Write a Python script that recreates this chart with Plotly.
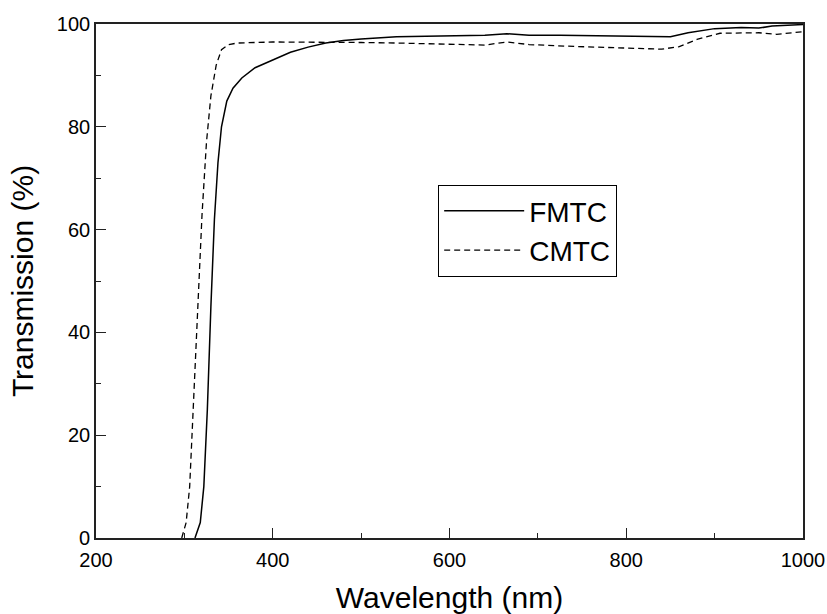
import plotly.graph_objects as go

# FMTC (solid)
fmtc_wl = [312, 318, 322, 326, 330, 334, 338, 342, 348, 355, 365, 380, 400, 420, 440, 460,
           480, 500, 540, 600, 640, 665, 690, 725, 800, 850, 870, 900, 930, 950, 965, 1000]
fmtc_t = [0, 3, 10, 25, 45, 62, 73, 80, 85, 87.5, 89.5, 91.5, 93, 94.5, 95.5, 96.3,
          96.8, 97.1, 97.5, 97.7, 97.8, 98.1, 97.8, 97.8, 97.6, 97.5, 98.3, 99.1, 99.3, 99.2, 99.6, 99.9]

# CMTC (dashed)
cmtc_wl = [297, 302, 306, 310, 315, 320, 325, 330, 336, 342, 350, 360, 400, 450, 500, 540,
           600, 640, 665, 690, 730, 800, 840, 860, 880, 906, 950, 970, 1000]
cmtc_t = [0, 3, 10, 25, 45, 63, 77, 86, 92, 95, 96, 96.3, 96.5, 96.5, 96.4, 96.3,
          96.1, 95.9, 96.5, 96.0, 95.7, 95.3, 95.1, 95.6, 97, 98.2, 98.3, 98.0, 98.5]

x_ticks = [200, 400, 600, 800, 1000]
y_ticks = [0, 20, 40, 60, 80, 100]

font = "Liberation Sans, Arial, sans-serif"

fig = go.Figure()
fig.add_trace(go.Scatter(x=fmtc_wl, y=fmtc_t, mode="lines", name="FMTC",
                         line=dict(color="black", width=1.5)))
fig.add_trace(go.Scatter(x=cmtc_wl, y=cmtc_t, mode="lines", name="CMTC",
                         line=dict(color="black", width=1.3, dash="6px,4px")))

axis_common = dict(showgrid=False, zeroline=False, showline=True, linecolor="#222",
                   linewidth=1.6, mirror=True, ticks="inside", ticklen=10, tickwidth=1.2,
                   tickcolor="#222", tickfont=dict(family=font, size=20, color="black"),
                   automargin=False)

fig.update_xaxes(range=[200, 1000], tickvals=x_ticks, ticktext=[str(v) for v in x_ticks],
                 minor=dict(ticks="inside", ticklen=5, tickwidth=1.2, tickcolor="#222", dtick=100),
                 ticklabelstandoff=3,
                 title=dict(text="Wavelength (nm)", font=dict(family=font, size=30, color="black"),
                            standoff=20),
                 **axis_common)
fig.update_yaxes(range=[0, 100], tickvals=y_ticks, ticktext=[str(v) for v in y_ticks],
                 minor=dict(ticks="inside", ticklen=5, tickwidth=1.2, tickcolor="#222", dtick=10),
                 title=dict(text="Transmission (%)", font=dict(family=font, size=30, color="black"),
                            standoff=14),
                 **axis_common)

fig.update_layout(
    width=827, height=614,
    margin=dict(l=96, r=24, t=24, b=76),
    plot_bgcolor="white", paper_bgcolor="white",
    showlegend=True,
    legend=dict(x=0.4837, y=0.687, xanchor="left", yanchor="top",
                bordercolor="black", borderwidth=1.2, bgcolor="white",
                font=dict(family=font, size=28, color="black"),
                itemwidth=80),
)

fig.write_html("out.html", config={"displayModeBar": False},
               post_script="document.body.style.margin='0';document.body.style.overflow='hidden';")
